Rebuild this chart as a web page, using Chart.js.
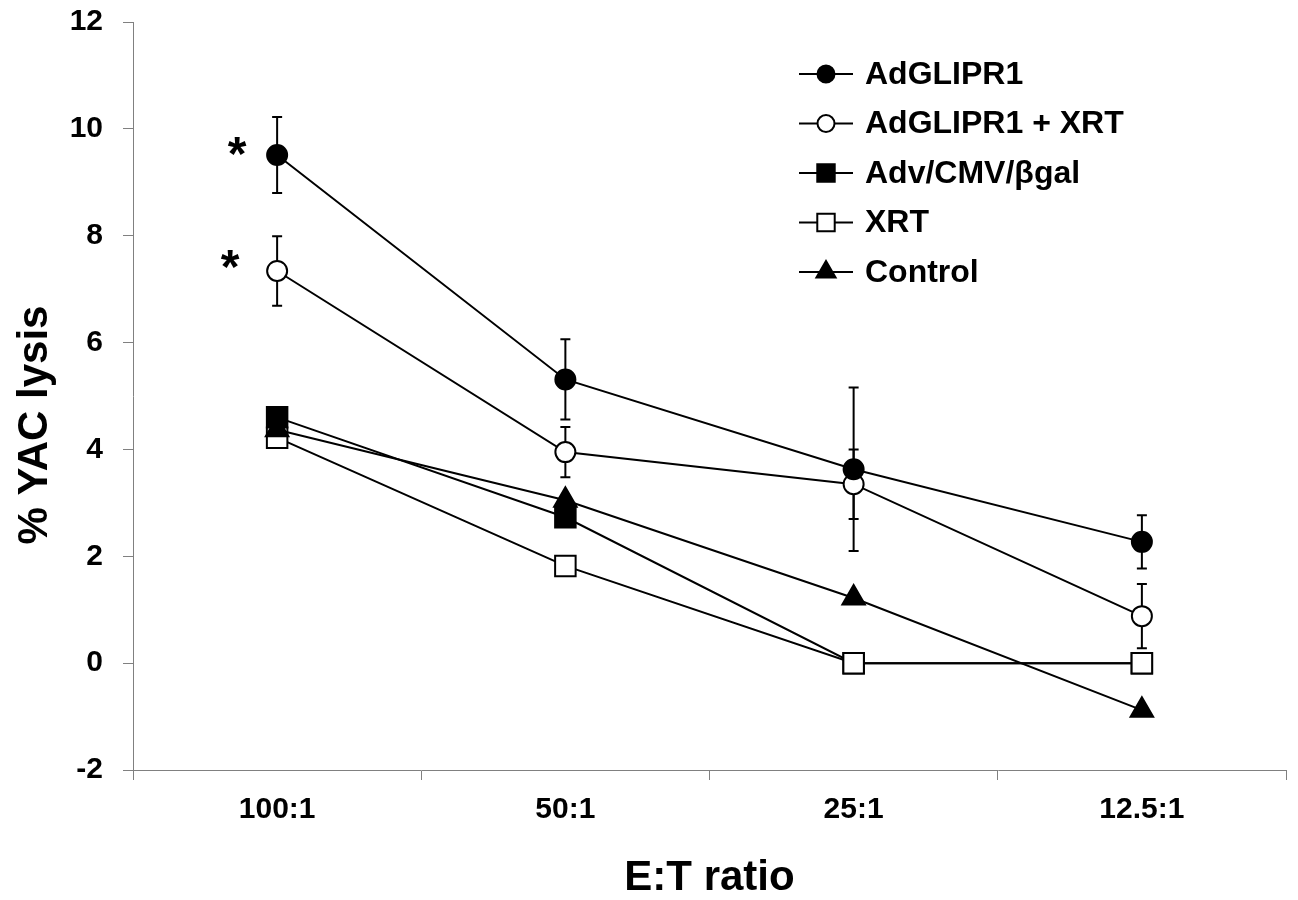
<!DOCTYPE html>
<html>
<head>
<meta charset="utf-8">
<script src="https://cdn.jsdelivr.net/npm/chart.js@4.4.1/dist/chart.umd.min.js"></script>
<style>
  html, body { margin: 0; padding: 0; background: #fff; overflow: hidden; }
  #wrap { width: 1298px; height: 900px; }
  canvas { display: block; }
</style>
</head>
<body>
<div id="wrap"><canvas id="lysis" width="1298" height="900"></canvas></div>
<script>
// E:T ratio categories
const ratios = ['100:1', '50:1', '25:1', '12.5:1'];

// % YAC lysis per group
const adglipr1 = [9.51, 5.31, 3.63, 2.27];
const adglipr1Err = [0.71, 0.75, 1.53, 0.5];
const adglipr1Xrt = [7.34, 3.95, 3.35, 0.88];
const adglipr1XrtErr = [0.65, 0.47, 0.65, 0.6];
const betaGal = [4.60, 2.73, 0, 0];
const xrtOnly = [4.22, 1.82, 0, 0];
const control = [4.37, 3.05, 1.22, -0.88];

const yTicks = [-2, 0, 2, 4, 6, 8, 10, 12];

// significance marks: [dataset index, category index]
const starMarks = [[0, 0], [1, 0]];

const FONT = 'Liberation Sans, Arial, sans-serif';

// order: lower number is painted on top
const makeSet = (label, data, style, fill, radius, order, err) => ({
  label, data, order,
  err: err || null,
  borderColor: '#000',
  borderWidth: 2,
  pointStyle: style,
  pointRadius: radius,
  pointHoverRadius: radius,
  pointBackgroundColor: fill,
  pointBorderColor: '#000',
  pointBorderWidth: 2,
  fill: false,
  tension: 0
});

const datasets = [
  makeSet('AdGLIPR1', adglipr1, 'circle', '#000', 10, 0, adglipr1Err),
  makeSet('AdGLIPR1 + XRT', adglipr1Xrt, 'circle', '#fff', 10, 1, adglipr1XrtErr),
  makeSet('Adv/CMV/βgal', betaGal, 'rect', '#000', 14.5, 4),
  makeSet('XRT', xrtOnly, 'rect', '#fff', 14.5, 3),
  makeSet('Control', control, 'triangle', '#000', 13, 2)
];

// marker painter for the legend
function paintMarker(ctx, style, fill, r, x, y) {
  ctx.save();
  ctx.fillStyle = fill;
  ctx.strokeStyle = '#000';
  ctx.lineWidth = 2;
  ctx.beginPath();
  if (style === 'circle') {
    ctx.arc(x, y, r, 0, Math.PI * 2);
  } else if (style === 'rect') {
    const s = r * Math.SQRT1_2;
    ctx.rect(x - s, y - s, 2 * s, 2 * s);
  } else {
    ctx.moveTo(x, y - r);
    ctx.lineTo(x + r * Math.sin(Math.PI * 2 / 3), y + r / 2);
    ctx.lineTo(x - r * Math.sin(Math.PI * 2 / 3), y + r / 2);
    ctx.closePath();
  }
  ctx.fill();
  ctx.stroke();
  ctx.restore();
}

const errorBars = {
  id: 'errorBars',
  beforeDatasetsDraw(chart) {
    const { ctx, scales: { x, y } } = chart;
    ctx.save();
    ctx.strokeStyle = '#000';
    ctx.lineWidth = 2;
    chart.data.datasets.forEach(ds => {
      if (!ds.err) return;
      ds.data.forEach((v, i) => {
        const px = x.getPixelForValue(i);
        const top = y.getPixelForValue(v + ds.err[i]);
        const bot = y.getPixelForValue(v - ds.err[i]);
        ctx.beginPath();
        ctx.moveTo(px, top); ctx.lineTo(px, bot);
        ctx.moveTo(px - 5, top); ctx.lineTo(px + 5, top);
        ctx.moveTo(px - 5, bot); ctx.lineTo(px + 5, bot);
        ctx.stroke();
      });
    });
    ctx.restore();
  }
};

const extras = {
  id: 'extras',
  afterDraw(chart) {
    const { ctx, chartArea, scales: { x, y } } = chart;
    ctx.save();
    ctx.fillStyle = '#000';

    // y title, sits a little below the middle of the axis
    ctx.save();
    ctx.translate(35, (chartArea.top + chartArea.bottom) / 2 + 29);
    ctx.rotate(-Math.PI / 2);
    ctx.font = 'bold 42px ' + FONT;
    ctx.textAlign = 'center';
    ctx.textBaseline = 'middle';
    ctx.fillText('% YAC lysis', 0, 0);
    ctx.restore();

    // asterisks
    ctx.font = 'bold 48px ' + FONT;
    ctx.textAlign = 'center';
    ctx.textBaseline = 'middle';
    starMarks.forEach(([d, i], k) => {
      const px = x.getPixelForValue(i);
      const py = y.getPixelForValue(chart.data.datasets[d].data[i]);
      ctx.fillText('*', px - 40 - k * 7, py + 2 - k * 3.5);
    });

    // legend
    ctx.font = 'bold 32px ' + FONT;
    ctx.textAlign = 'left';
    const lx = 799, ly = 74, step = 49.5;
    chart.data.datasets.forEach((ds, k) => {
      const yy = ly + k * step;
      ctx.strokeStyle = '#000';
      ctx.lineWidth = 2;
      ctx.beginPath();
      ctx.moveTo(lx, yy); ctx.lineTo(lx + 54, yy);
      ctx.stroke();
      paintMarker(ctx, ds.pointStyle, ds.pointBackgroundColor, ds.pointRadius * 0.85, lx + 27, yy);
      ctx.fillStyle = '#000';
      ctx.fillText(ds.label, lx + 66, yy + 1);
    });
    ctx.restore();
  }
};

new Chart(document.getElementById('lysis'), {
  type: 'line',
  data: { labels: ratios, datasets },
  options: {
    responsive: false,
    devicePixelRatio: 1,
    animation: false,
    layout: { autoPadding: false, padding: { top: 22, right: 12, left: 0, bottom: 0 } },
    plugins: { legend: { display: false }, tooltip: { enabled: false } },
    scales: {
      x: {
        type: 'category',
        offset: true,
        afterFit: s => {
          s.height = 130;
          s.paddingLeft = 0; s.paddingRight = 0;
        },
        grid: { offset: true, drawOnChartArea: false, drawTicks: true, tickLength: 10, color: '#808080' },
        border: { color: '#808080', width: 1 },
        ticks: { color: '#000', padding: 12, font: { family: FONT, size: 30, weight: 'bold' } },
        title: {
          display: true, text: 'E:T ratio', color: '#000',
          font: { family: FONT, size: 42, weight: 'bold', lineHeight: 1 },
          padding: { top: 0, bottom: 1 }
        }
      },
      y: {
        min: -2, max: 12,
        afterFit: s => {
          s.width = 133;
          s.paddingTop = 0; s.paddingBottom = 0;
        },
        afterBuildTicks: s => { s.ticks = yTicks.map(v => ({ value: v })); },
        grid: { drawOnChartArea: false, drawTicks: true, tickLength: 10, color: '#808080' },
        border: { color: '#808080', width: 1 },
        ticks: { color: '#000', padding: 20, font: { family: FONT, size: 30, weight: 'bold' } }
      }
    }
  },
  plugins: [errorBars, extras]
});
</script>
</body>
</html>
